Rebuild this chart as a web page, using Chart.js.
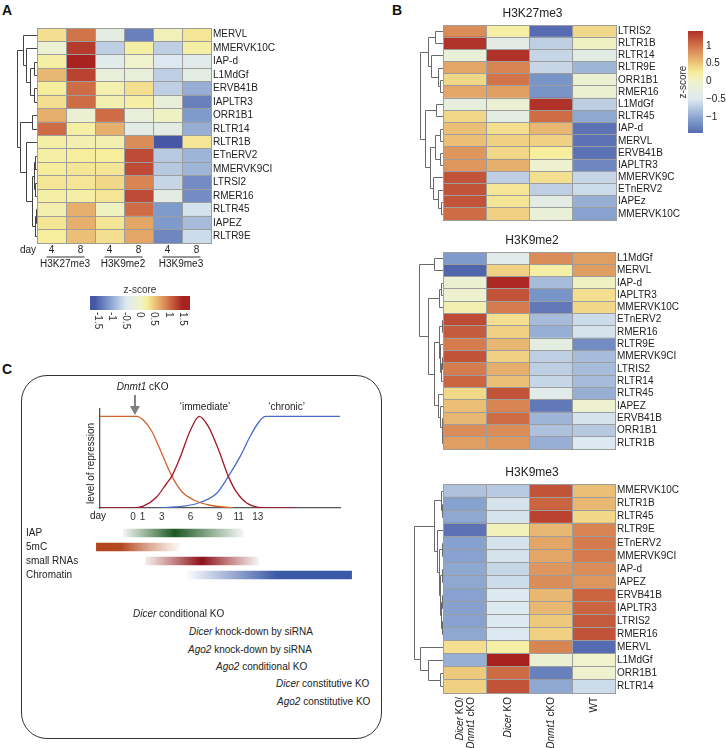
<!DOCTYPE html>
<html>
<head>
<meta charset="utf-8">
<script src="https://cdn.jsdelivr.net/npm/chart.js@4.4.1/dist/chart.umd.min.js"></script>
<style>
  body { margin: 0; background: #fff; font-family: 'Liberation Sans', Arial, sans-serif; color: #222; }
  #page { position: relative; width: 726px; height: 748px; overflow: hidden; }
  canvas { position: absolute; }
  .lt { position: absolute; font-weight: bold; font-size: 14px; color: #111; }
  .ko { position: absolute; font-size: 10px; line-height: 12px; white-space: nowrap; color: #222; }
  #box { position: absolute; left: 21px; top: 375px; width: 359px; height: 362px; border: 1px solid #333; border-radius: 26px; }
</style>
</head>
<body>
<div id="page">
  <div id="box"></div>
  <div class="lt" style="left:2px;top:2px">A</div>
  <div class="lt" style="left:392px;top:2px">B</div>
  <div class="lt" style="left:2px;top:361px">C</div>

  <canvas id="hA" width="290" height="253" style="left:0;top:20px"></canvas>
  <canvas id="barA" width="160" height="60" style="left:60px;top:280px"></canvas>

  <canvas id="hB1" width="326" height="225" style="left:400px;top:3px"></canvas>
  <canvas id="hB2" width="326" height="227" style="left:400px;top:230px"></canvas>
  <canvas id="hB3" width="326" height="286" style="left:400px;top:462px"></canvas>
  <canvas id="barB" width="66" height="125" style="left:660px;top:20px"></canvas>

  <canvas id="curves" width="345" height="160" style="left:20px;top:375px"></canvas>
  <canvas id="marks" width="345" height="68" style="left:20px;top:520px"></canvas>

  <div class="ko" style="left:133px;top:608px"><i>Dicer</i> conditional KO</div>
  <div class="ko" style="left:189px;top:626px"><i>Dicer</i> knock-down by siRNA</div>
  <div class="ko" style="left:188px;top:644px"><i>Ago2</i> knock-down by siRNA</div>
  <div class="ko" style="left:216px;top:661px"><i>Ago2</i> conditional KO</div>
  <div class="ko" style="left:276px;top:678px"><i>Dicer</i> constitutive KO</div>
  <div class="ko" style="left:277px;top:696px"><i>Ago2</i> constitutive KO</div>
</div>

<script>
const FONT = "'Liberation Sans', Arial, sans-serif";
Chart.defaults.font.family = FONT;
Chart.defaults.font.size = 10;
Chart.defaults.color = '#222';

// z-score colour scale
const zStops = [-1.6, -1.1, -0.5, 0, 0.25, 0.5, 1, 1.5];
const zColors = ['#4557a6', '#7f9bcb', '#dde9f0', '#eff2cc', '#f6ee9c', '#eec87b', '#d2744a', '#a8221f'];

// ---- panel A ----
const rowsA = ['MERVL', 'MMERVK10C', 'IAP-d', 'L1MdGf', 'ERVB41B', 'IAPLTR3', 'ORR1B1', 'RLTR14',
  'RLTR1B', 'ETnERV2', 'MMERVK9CI', 'LTRSI2', 'RMER16', 'RLTR45', 'IAPEZ', 'RLTR9E'];
const dayLabelsA = ['4', '8', '4', '8', '4', '8'];
const groupsA = ['H3K27me3', 'H3K9me2', 'H3K9me3'];
const zA = [
  [0.35, 1.0, -0.3, -1.3, 0.1, 0.3],
  [-0.1, 1.35, -0.7, 0.2, -0.7, 0.2],
  [0.2, 1.6, -0.4, 0.0, -0.5, -0.4],
  [0.6, 1.3, -0.2, -0.2, -0.7, -0.3],
  [0.25, 1.05, 0.15, 0.35, -0.7, -0.95],
  [0.35, 1.05, 0.15, 0.2, -0.2, -1.3],
  [0.65, -0.1, 1.05, -0.2, 0.05, -1.1],
  [1.05, 0.2, 0.65, -0.35, -0.35, -0.95],
  [0.2, 0.15, 0.15, 0.85, -1.6, 0.3],
  [0.2, 0.25, 0.25, 1.25, -0.75, -0.9],
  [0.25, 0.3, 0.3, 1.25, -0.75, -0.9],
  [0.3, 0.3, 0.4, 0.9, -0.65, -1.2],
  [0.2, 0.2, 0.3, 1.25, -0.35, -1.2],
  [0.15, 0.65, 0.05, 1.05, -1.1, -0.55],
  [0.3, 0.65, 0.3, 0.7, -1.1, -0.85],
  [0.25, 0.55, 0.35, 0.7, -1.25, -0.6]
];
// merges [a, b, distance]; node n+k is merge k
const treeA = [[2, 3, 3], [4, 5, 3], [16, 17, 7], [1, 18, 11], [0, 19, 14.3], [6, 7, 5.3],
  [13, 14, 1.5], [22, 15, 2.5], [11, 12, 2], [9, 10, 2.5], [25, 24, 3.5], [26, 23, 5],
  [8, 27, 11], [21, 28, 17], [20, 29, 20.3]];
const ticksA = [-1.5, -1, -0.5, 0, 0.5, 1, 1.5];

// ---- panel B ----
const colLabelsB = [['Dicer KO/', 'Dnmt1 cKO'], ['Dicer KO'], ['Dnmt1 cKO'], ['WT']];

const rowsB1 = ['LTRIS2', 'RLTR1B', 'RLTR14', 'RLTR9E', 'ORR1B1', 'RMER16', 'L1MdGf', 'RLTR45',
  'IAP-d', 'MERVL', 'ERVB41B', 'IAPLTR3', 'MMERVK9C', 'ETnERV2', 'IAPEz', 'MMERVK10C'];
const zB1 = [
  [0.85, 0.2, -1.45, 0.4],
  [1.4, -0.35, -0.7, 0.05],
  [-0.15, 1.4, -0.65, -0.35],
  [0.7, 0.9, -0.65, -0.9],
  [0.4, 1.0, -1.15, -0.1],
  [0.7, 0.75, -1.15, -0.1],
  [-0.25, -0.1, 1.4, -0.7],
  [0.4, -0.3, 1.05, -1.0],
  [0.55, 0.35, 0.6, -1.4],
  [0.55, 0.45, 0.45, -1.4],
  [0.8, 0.4, 0.25, -1.4],
  [0.8, 0.65, -0.05, -1.25],
  [1.2, -0.7, 0.35, -0.65],
  [1.2, 0.3, -0.7, -0.6],
  [1.2, 0.3, -0.35, -0.95],
  [1.05, 0.45, -0.15, -1.05]
];
const treeB1 = [[0, 1, 8.3], [4, 5, 2.7], [3, 17, 5], [2, 18, 11.7], [16, 19, 15], [6, 7, 6.7],
  [8, 9, 2.7], [10, 11, 2.7], [22, 23, 8.3], [14, 15, 1.7], [13, 25, 5], [12, 26, 10],
  [24, 27, 13.3], [21, 28, 18.3], [20, 29, 23.3]];

const rowsB2 = ['L1MdGf', 'MERVL', 'IAP-d', 'IAPLTR3', 'MMERVK10C', 'ETnERV2', 'RMER16', 'RLTR9E',
  'MMERVK9CI', 'LTRIS2', 'RLTR14', 'RLTR45', 'IAPEZ', 'ERVB41B', 'ORR1B1', 'RLTR1B'];
const zB2 = [
  [-1.1, -0.4, 0.85, 0.75],
  [-1.5, 0.45, 0.2, 0.75],
  [-0.1, 1.45, -0.85, 0.05],
  [-0.05, 1.2, -1.15, 0.35],
  [0.15, 0.95, -1.35, 0.4],
  [1.25, 0.35, -0.85, -0.6],
  [1.15, 0.45, -0.95, -0.55],
  [0.95, 0.6, -0.3, -1.2],
  [1.2, 0.45, -0.7, -0.85],
  [0.95, 0.65, -0.7, -0.85],
  [1.1, 0.55, -0.65, -0.85],
  [0.4, 1.2, -0.4, -0.95],
  [0.55, 0.9, -1.35, -0.05],
  [0.6, 1.05, -0.9, -0.55],
  [0.85, 0.85, -0.8, -0.75],
  [0.75, 0.8, -0.95, -0.5]
];
const treeB2 = [[0, 1, 8.7], [2, 3, 2], [17, 4, 4.3], [5, 6, 1.5], [8, 9, 1], [20, 10, 1.8],
  [7, 21, 2.8], [19, 22, 4], [14, 15, 0.8], [13, 24, 1.5], [12, 25, 3], [11, 26, 5],
  [23, 27, 9], [18, 28, 15.3], [16, 29, 24.3]];

const rowsB3 = ['MMERVK10C', 'RLTR1B', 'RLTR45', 'RLTR9E', 'ETnERV2', 'MMERVK9CI', 'IAP-d', 'IAPEZ',
  'ERVB41B', 'IAPLTR3', 'LTRIS2', 'RMER16', 'MERVL', 'L1MdGf', 'ORR1B1', 'RLTR14'];
const zB3 = [
  [-0.8, -0.75, 1.2, 0.55],
  [-1.05, -0.55, 1.1, 0.6],
  [-1.0, -0.55, 1.3, 0.4],
  [-1.4, 0.1, 0.6, 0.9],
  [-1.05, -0.55, 0.7, 0.95],
  [-1.05, -0.55, 0.7, 0.95],
  [-1.0, -0.65, 0.8, 0.85],
  [-1.0, -0.6, 0.85, 0.8],
  [-1.05, -0.5, 0.6, 1.1],
  [-1.05, -0.5, 0.6, 1.1],
  [-1.05, -0.5, 0.5, 1.15],
  [-1.0, -0.5, 0.45, 1.2],
  [0.35, 0.2, 0.9, -1.45],
  [-0.95, 1.5, -0.1, 0.0],
  [0.5, 1.05, -1.3, -0.05],
  [0.45, 1.2, -1.0, -0.6]
];
const treeB3 = [[1, 2, 1], [0, 16, 2], [4, 5, 0.7], [6, 7, 0.7], [8, 9, 0.7], [10, 11, 0.7],
  [20, 21, 2], [19, 22, 3], [18, 23, 4], [3, 24, 6], [17, 25, 9.5], [14, 15, 3],
  [13, 27, 15], [12, 28, 22.7], [26, 29, 29.3]];
const ticksB = [1, 0.5, 0, -0.5, -1];

// ---- panel C ----
const dayTicks = [0, 1, 3, 6, 9, 11, 13];
const orangeDays = [-3.44, 0.38, 1.07, 1.94, 2.81, 4.03, 5.07, 6.28, 8.02, 10.45];
const orangeLevel = [1, 1, 0.96, 0.84, 0.64, 0.35, 0.18, 0.09, 0.03, 0];
const redDays = [-3.44, 0, 1.07, 2.46, 3.51, 4.03, 4.9, 5.94, 6.9, 7.84, 8.89, 9.93, 10.8, 11.84, 13.57, 16.9];
const redLevel = [0, 0, 0.02, 0.12, 0.27, 0.345, 0.55, 0.84, 1, 0.89, 0.64, 0.345, 0.17, 0.055, 0.004, 0];
const blueDays = [2.46, 5.24, 6.98, 8.72, 9.93, 11.15, 12.19, 13.05, 13.57, 13.9, 21.56];
const blueLevel = [0, 0.02, 0.06, 0.16, 0.345, 0.56, 0.78, 0.93, 0.99, 1, 1];

const markLabels = ['IAP', '5mC', 'small RNAs', 'Chromatin'];
const markStart = [-1.04, -3.85, 1.25, 5.42];
const markEnd = [11.46, 4.9, 13.1, 22.8];

// styles
const GRID = '#9d9d9d';
const markGrad = [
  [[0, 'rgba(40,100,45,0.06)'], [0.43, '#1e5621'], [1, 'rgba(40,100,45,0.06)']],
  [[0, '#b0441c'], [0.3, '#b4481f'], [1, 'rgba(200,120,80,0.04)']],
  [[0, 'rgba(150,40,40,0.08)'], [0.5, '#8b1118'], [1, 'rgba(150,40,40,0.06)']],
  [[0, 'rgba(60,90,170,0)'], [0.55, '#3c5ba6'], [1, '#3a59a6']]
];

function hexRgb(h) { return [1, 3, 5].map(i => parseInt(h.substr(i, 2), 16)); }
function zColor(v) {
  if (v <= zStops[0]) return zColors[0];
  for (let i = 1; i < zStops.length; i++) {
    if (v <= zStops[i]) {
      const t = (v - zStops[i - 1]) / (zStops[i] - zStops[i - 1]);
      const a = hexRgb(zColors[i - 1]), b = hexRgb(zColors[i]);
      return 'rgb(' + a.map((c, k) => Math.round(c + (b[k] - c) * t)).join(',') + ')';
    }
  }
  return zColors[zColors.length - 1];
}
function zGradient(ctx, x0, y0, x1, y1, vmin, vmax) {
  if (![x0, y0, x1, y1].every(Number.isFinite)) return zColor(0);
  const g = ctx.createLinearGradient(x0, y0, x1, y1);
  for (let i = 0; i <= 40; i++) g.addColorStop(i / 40, zColor(vmin + (vmax - vmin) * i / 40));
  return g;
}

// text with italic gene names
const ITALIC = ['Dicer', 'Dnmt1', 'Ago2'];
function drawRich(ctx, text, x, y, align) {
  const words = text.split(' ');
  const parts = words.map((w, i) => ({ t: (i ? ' ' : '') + w, f: (ITALIC.includes(w) ? 'italic ' : '') + '10px ' + FONT }));
  let total = 0;
  parts.forEach(p => { ctx.font = p.f; p.w = ctx.measureText(p.t).width; total += p.w; });
  let cx = align === 'right' ? x - total : align === 'center' ? x - total / 2 : x;
  ctx.textAlign = 'left';
  parts.forEach(p => { ctx.font = p.f; ctx.fillText(p.t, cx, y); cx += p.w; });
}

function dendro(tree, color) {
  return {
    id: 'dendro',
    afterDraw(chart) {
      const { ctx, chartArea, scales: { y } } = chart;
      const nodes = y.getLabels().map((_, i) => ({ x: chartArea.left, y: y.getPixelForValue(i) }));
      ctx.save();
      ctx.strokeStyle = color;
      ctx.lineWidth = 1;
      ctx.beginPath();
      tree.forEach(([a, b, h]) => {
        const A = nodes[a], B = nodes[b], x = Math.round(chartArea.left - h) + 0.5;
        ctx.moveTo(A.x, Math.round(A.y) + 0.5);
        ctx.lineTo(x, Math.round(A.y) + 0.5);
        ctx.lineTo(x, Math.round(B.y) + 0.5);
        ctx.lineTo(B.x, Math.round(B.y) + 0.5);
        nodes.push({ x, y: (A.y + B.y) / 2 });
      });
      ctx.stroke();
      ctx.restore();
    }
  };
}

function heatmap(id, rows, z, tree, o) {
  const nc = z[0].length;
  const datasets = [];
  for (let c = 0; c < nc; c++) {
    datasets.push({
      data: rows.map(() => [c, c + 1]),
      backgroundColor: z.map(r => zColor(r[c])),
      borderWidth: 0,
      barPercentage: 1,
      categoryPercentage: 1,
      grouped: false
    });
  }
  return new Chart(document.getElementById(id), {
    type: 'bar',
    data: { labels: rows, datasets },
    options: {
      indexAxis: 'y',
      responsive: false,
      animation: false,
      layout: { padding: o.padding },
      plugins: { legend: { display: false }, tooltip: { enabled: false } },
      scales: {
        x: {
          type: 'linear', min: 0, max: nc,
          ticks: { display: false, stepSize: 1 },
          grid: { color: GRID, drawTicks: false, z: 1 },
          border: { color: GRID, z: 1 },
          afterFit: s => { s.height = 0; }
        },
        y: {
          position: 'right',
          grid: { color: GRID, drawTicks: false, offset: true, z: 1 },
          border: { color: GRID, z: 1 },
          ticks: { autoSkip: false, padding: 2, color: '#222', font: { size: 10 } },
          afterFit: s => { s.width = o.axisW; }
        }
      }
    },
    plugins: [dendro(tree, o.treeColor)].concat(o.extra || [])
  });
}

function titlePlugin(text) {
  return {
    id: 'ttl',
    afterDraw(chart) {
      const { ctx, chartArea: a } = chart;
      ctx.save();
      ctx.fillStyle = '#222';
      ctx.font = '12px ' + FONT;
      ctx.textAlign = 'center';
      ctx.textBaseline = 'middle';
      ctx.fillText(text, (a.left + a.right) / 2 + 3, a.top - 11);
      ctx.restore();
    }
  };
}

const colLabelsA = {
  id: 'colsA',
  afterDraw(chart) {
    const { ctx, chartArea: a, scales: { x } } = chart;
    ctx.save();
    ctx.fillStyle = '#222';
    ctx.strokeStyle = '#333';
    ctx.font = '10px ' + FONT;
    ctx.textAlign = 'center';
    ctx.textBaseline = 'middle';
    ctx.fillText('day', a.left - 9, a.bottom + 7);
    dayLabelsA.forEach((t, i) => ctx.fillText(t, x.getPixelForValue(i + 0.5), a.bottom + 7));
    ctx.lineWidth = 1.2;
    groupsA.forEach((g, k) => {
      const c0 = x.getPixelForValue(2 * k + 0.5), c1 = x.getPixelForValue(2 * k + 1.5);
      ctx.beginPath();
      ctx.moveTo(c0 - 5, a.bottom + 14);
      ctx.lineTo(c1 + 4, a.bottom + 14);
      ctx.stroke();
      ctx.fillText(g, (c0 + c1) / 2 - 1, a.bottom + 21);
    });
    ctx.restore();
  }
};

const colLabelsB3 = {
  id: 'colsB',
  afterDraw(chart) {
    const { ctx, chartArea: a, scales: { x } } = chart;
    ctx.save();
    ctx.fillStyle = '#222';
    ctx.textBaseline = 'middle';
    colLabelsB.forEach((lines, i) => {
      const cx = x.getPixelForValue(i + 0.5);
      lines.forEach((t, j) => {
        const lx = lines.length > 1 ? cx - 4 + j * 11 : cx + 1;
        ctx.save();
        ctx.translate(lx, a.bottom + 4);
        ctx.rotate(-Math.PI / 2);
        drawRich(ctx, t, 0, 0, 'right');
        ctx.restore();
      });
    });
    ctx.restore();
  }
};

heatmap('hA', rowsA, zA, treeA, {
  padding: { left: 37, top: 7, right: 0, bottom: 30 }, axisW: 79, treeColor: '#444', extra: [colLabelsA]
});
heatmap('hB1', rowsB1, zB1, treeB1, {
  padding: { left: 43, top: 22, right: 0, bottom: 2 }, axisW: 110, treeColor: '#6a6a6a', extra: [titlePlugin('H3K27me3')]
});
heatmap('hB2', rowsB2, zB2, treeB2, {
  padding: { left: 43, top: 22, right: 0, bottom: 2 }, axisW: 111, treeColor: '#6a6a6a', extra: [titlePlugin('H3K9me2')]
});
heatmap('hB3', rowsB3, zB3, treeB3, {
  padding: { left: 43, top: 22, right: 0, bottom: 55 }, axisW: 111, treeColor: '#6a6a6a', extra: [titlePlugin('H3K9me3'), colLabelsB3]
});

// colour key A (horizontal)
const keyAMin = -1.76, keyAMax = 1.76;
new Chart(document.getElementById('barA'), {
  type: 'bar',
  data: { labels: ['z'], datasets: [{
    data: [[keyAMin, keyAMax]],
    backgroundColor: c => {
      const x = c.chart.scales.x;
      if (!x) return zColor(0);
      return zGradient(c.chart.ctx, x.getPixelForValue(keyAMin), 0, x.getPixelForValue(keyAMax), 0, keyAMin, keyAMax);
    },
    borderWidth: 0, barPercentage: 1, categoryPercentage: 1
  }] },
  options: {
    indexAxis: 'y', responsive: false, animation: false,
    layout: { padding: { left: 30, right: 30, top: 16, bottom: 30 } },
    plugins: { legend: { display: false }, tooltip: { enabled: false } },
    scales: { x: { type: 'linear', min: keyAMin, max: keyAMax, display: false }, y: { display: false } }
  },
  plugins: [{
    id: 'keyA',
    afterDraw(chart) {
      const { ctx, chartArea: a, scales: { x } } = chart;
      ctx.save();
      ctx.fillStyle = '#333';
      ctx.font = '10px ' + FONT;
      ctx.textAlign = 'center';
      ctx.textBaseline = 'middle';
      ctx.fillText('z-score', (a.left + a.right) / 2, a.top - 6);
      ctx.textAlign = 'left';
      ticksA.forEach(v => {
        ctx.save();
        ctx.translate(x.getPixelForValue(v), a.bottom + 2);
        ctx.rotate(Math.PI / 2);
        ctx.fillText(String(v), 0, 0);
        ctx.restore();
      });
      ctx.restore();
    }
  }]
});

// colour key B (vertical)
const keyBMin = -1.45, keyBMax = 1.42;
new Chart(document.getElementById('barB'), {
  type: 'bar',
  data: { labels: ['z'], datasets: [{
    data: [[keyBMin, keyBMax]],
    backgroundColor: c => {
      const y = c.chart.scales.y;
      if (!y) return zColor(0);
      return zGradient(c.chart.ctx, 0, y.getPixelForValue(keyBMin), 0, y.getPixelForValue(keyBMax), keyBMin, keyBMax);
    },
    borderWidth: 0, barPercentage: 1, categoryPercentage: 1
  }] },
  options: {
    responsive: false, animation: false,
    layout: { padding: { left: 28, right: 0, top: 11, bottom: 12 } },
    plugins: { legend: { display: false }, tooltip: { enabled: false } },
    scales: {
      x: { display: false },
      y: {
        position: 'right', min: keyBMin, max: keyBMax,
        grid: { display: false, drawTicks: false }, border: { display: false },
        afterBuildTicks: s => { s.ticks = ticksB.map(v => ({ value: v })); },
        ticks: { padding: 3, color: '#222', callback: v => (v < 0 ? '\u2212' + Math.abs(v) : String(v)) },
        afterFit: s => { s.width = 23; }
      }
    }
  },
  plugins: [{
    id: 'keyB',
    afterDraw(chart) {
      const { ctx, chartArea: a } = chart;
      ctx.save();
      ctx.fillStyle = '#333';
      ctx.font = '10px ' + FONT;
      ctx.textAlign = 'center';
      ctx.textBaseline = 'middle';
      ctx.translate(a.left - 5, (a.top + a.bottom) / 2);
      ctx.rotate(-Math.PI / 2);
      ctx.fillText('z-score', 0, 0);
      ctx.restore();
    }
  }]
});

// panel C curves
const dayMin = -3.44, dayMax = 21.56;
const pts = (xs, ys) => xs.map((x, i) => ({ x, y: ys[i] }));
new Chart(document.getElementById('curves'), {
  type: 'line',
  data: { datasets: [
    { data: pts(redDays, redLevel), borderColor: '#a3172a' },
    { data: pts(orangeDays, orangeLevel), borderColor: '#d2622b' },
    { data: pts(blueDays, blueLevel), borderColor: '#4a6cc8' }
  ] },
  options: {
    responsive: false, animation: false,
    layout: { padding: { left: 80, top: 34, right: 25, bottom: 7 } },
    elements: { point: { radius: 0 }, line: { borderWidth: 1.3, cubicInterpolationMode: 'monotone', fill: false } },
    plugins: { legend: { display: false }, tooltip: { enabled: false } },
    scales: {
      x: {
        type: 'linear', min: dayMin, max: dayMax,
        grid: { display: false, drawTicks: false },
        border: { color: '#555', width: 1.3 },
        afterBuildTicks: s => { s.ticks = dayTicks.map(v => ({ value: v })); },
        ticks: { autoSkip: false, maxRotation: 0, padding: 3, color: '#333', callback: v => String(v) },
        afterFit: s => { s.height = 20; }
      },
      y: {
        min: 0, max: 1.08,
        grid: { display: false, drawTicks: false },
        border: { color: '#555', width: 1.3 },
        ticks: { display: false },
        afterFit: s => { s.width = 0; }
      }
    }
  },
  plugins: [{
    id: 'curveText',
    afterDraw(chart) {
      const { ctx, chartArea: a, scales: { x } } = chart;
      ctx.save();
      ctx.fillStyle = '#222';
      ctx.font = '10px ' + FONT;
      ctx.textBaseline = 'middle';
      ctx.textAlign = 'center';
      ctx.fillText('day', a.left - 2, a.bottom + 8.5);
      ctx.fillText('\u2018immediate\u2019', x.getPixelForValue(7.5), a.top - 2);
      ctx.fillText('\u2018chronic\u2019', x.getPixelForValue(16), a.top - 2);
      drawRich(ctx, 'Dnmt1 cKO', x.getPixelForValue(1.0), a.top - 22, 'center');
      // arrow
      const ax = x.getPixelForValue(0.2);
      ctx.strokeStyle = '#808080';
      ctx.fillStyle = '#808080';
      ctx.lineWidth = 2;
      ctx.beginPath();
      ctx.moveTo(ax, a.top - 14);
      ctx.lineTo(ax, a.top - 2);
      ctx.stroke();
      ctx.beginPath();
      ctx.moveTo(ax - 5, a.top - 3);
      ctx.lineTo(ax + 5, a.top - 3);
      ctx.lineTo(ax, a.top + 6);
      ctx.closePath();
      ctx.fill();
      // y title
      ctx.fillStyle = '#222';
      ctx.textAlign = 'center';
      ctx.font = '10px ' + FONT;
      ctx.translate(a.left - 9, (a.top + a.bottom) / 2 + 5);
      ctx.rotate(-Math.PI / 2);
      ctx.fillText('level of repression', 0, 0);
      ctx.restore();
    }
  }]
});

// panel C mark bars
new Chart(document.getElementById('marks'), {
  type: 'bar',
  data: { labels: markLabels, datasets: [{
    data: markLabels.map((_, i) => [markStart[i], markEnd[i]]),
    backgroundColor: c => {
      const chart = c.chart, x = chart.scales.x, i = c.dataIndex;
      if (!x || !chart.chartArea || i === undefined) return 'transparent';
      const x0 = x.getPixelForValue(markStart[i]), x1 = x.getPixelForValue(markEnd[i]);
      if (!Number.isFinite(x0) || !Number.isFinite(x1)) return 'transparent';
      const g = chart.ctx.createLinearGradient(x0, 0, x1, 0);
      markGrad[i].forEach(([o, col]) => g.addColorStop(o, col));
      return g;
    },
    borderWidth: 0, barPercentage: 0.62, categoryPercentage: 1
  }] },
  options: {
    indexAxis: 'y', responsive: false, animation: false,
    layout: { padding: { left: 6, top: 3, right: 5, bottom: 2 } },
    plugins: { legend: { display: false }, tooltip: { enabled: false } },
    scales: {
      x: { type: 'linear', min: -4.48, max: 23.64, display: false },
      y: {
        grid: { display: false, drawTicks: false }, border: { display: false },
        ticks: { crossAlign: 'far', padding: 0, color: '#222' },
        afterFit: s => { s.width = 64; }
      }
    }
  }
});
</script>
</body>
</html>
